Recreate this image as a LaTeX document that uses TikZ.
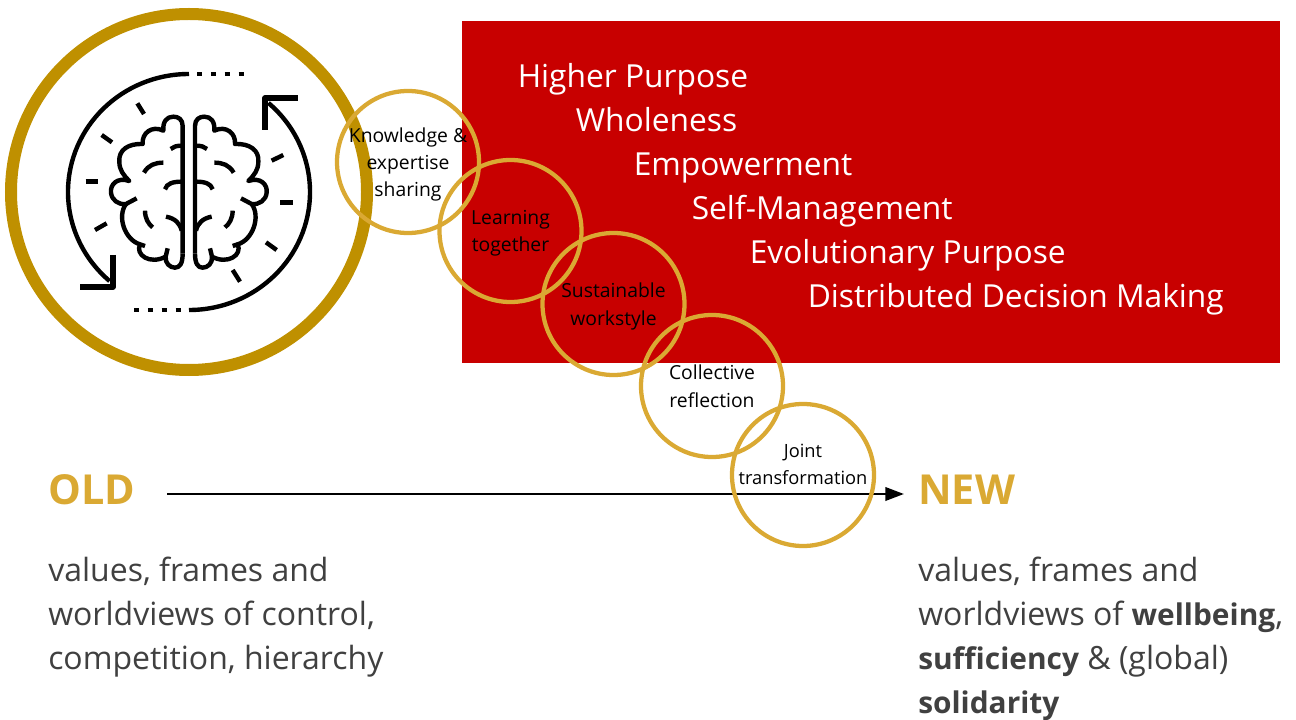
\documentclass[tikz,border=0pt]{standalone}
\usepackage{fontspec}
\setmainfont{Open Sans}
\usetikzlibrary{arrows.meta, positioning}
\definecolor{darkgold}{HTML}{BF9000}
\definecolor{lightgold}{HTML}{DAA933}
\definecolor{boxred}{HTML}{C80000}
\definecolor{bodygrey}{HTML}{404040}

% bold words in the body text
\newcommand{\keyword}[1]{{\fontsize{22.4}{33}\selectfont\bfseries #1}}

% one half of the brain, drawn in a 3x grid
\newcommand{\brainhalf}{
	\draw[icon] (548,760) -- (548,378) .. controls (548,358) and (535,350) .. (520,350)
		.. controls (500,350) and (488,365) .. (490,392)
		.. controls (455,375) and (425,400) .. (428,432)
		.. controls (385,430) and (355,450) .. (358,485)
		.. controls (358,510) and (370,525) .. (388,543)
		.. controls (350,530) and (330,555) .. (333,578)
		.. controls (335,600) and (355,615) .. (378,612) -- (410,595);
	\draw[icon] (378,612) .. controls (350,650) and (375,720) .. (420,733)
		.. controls (405,765) and (450,795) .. (497,770)
		.. controls (495,790) and (510,803) .. (525,803)
		.. controls (540,803) and (548,790) .. (548,760);
	\draw[icon] (420,733) -- (435,738);
	\draw[icon] (497,770) -- (503,745);
	\draw[icon] (512,447) .. controls (520,440) and (530,437) .. (545,437);
	\draw[icon] (432,518) .. controls (445,495) and (465,488) .. (490,488);
	\draw[icon] (495,568) .. controls (500,550) and (520,545) .. (545,545);
	\draw[icon] (435,632) .. controls (435,655) and (445,672) .. (458,682);
	\draw[icon] (498,650) .. controls (525,655) and (540,670) .. (545,692);
}

\begin{document}
\begin{tikzpicture}[
			x=0.75pt,
			y=-0.75pt,
			redbox/.style={
				rectangle,
				fill=boxred,
				draw=none,
				minimum width=613.5pt,
				minimum height=256.5pt,
				inner sep=0pt
			},
			purpose/.style={
				anchor=base west,
				text=white,
				font=\fontsize{23.8}{27}\selectfont,
				inner sep=0pt
			},
			bigring/.style={
				circle,
				draw=darkgold,
				line width=9pt,
				minimum size=267pt,
				inner sep=0pt
			},
			ring/.style={
				circle,
				draw=lightgold,
				line width=3.2pt,
				minimum size=106.5pt,
				inner sep=-12pt,
				align=center,
				text depth=0pt,
				font=\fontsize{14.5}{20.5}\selectfont
			},
			heading/.style={
				anchor=west,
				text=lightgold,
				font=\fontsize{31}{36}\selectfont\bfseries,
				inner sep=0pt
			},
			desc/.style={
				anchor=north west,
				align=left,
				text=bodygrey,
				font=\fontsize{24}{33}\selectfont,
				inner sep=0pt
			},
			icon/.style={
				line width=3.3pt,
				line cap=butt,
				line join=round
			},
			line/.style={
				-{Triangle[length=14pt,width=10pt]},
				line width=2pt
			}
			]
			
			\useasboundingbox (0,0) rectangle (1296,720);
			
			% Red box
			
			\node [redbox] (box) at (871,192) {};
			
			\node [purpose] (P1) at (517.5,88) {Higher Purpose};
			\node [purpose] (P2) at ([xshift=43.5pt,yshift=-33pt]P1.base west) {Wholeness};
			\node [purpose] (P3) at ([xshift=43.5pt,yshift=-33pt]P2.base west) {Empowerment};
			\node [purpose] (P4) at ([xshift=43.5pt,yshift=-33pt]P3.base west) {Self-Management};
			\node [purpose] (P5) at ([xshift=43.5pt,yshift=-33pt]P4.base west) {Evolutionary Purpose};
			\node [purpose] (P6) at ([xshift=43.5pt,yshift=-33pt]P5.base west) {Distributed Decision Making};
			
			% Brain
			
			\node [bigring] (mind) at (189,192) {};
			
			\draw[icon] (mind.center) ++(0,-118) arc[start angle=90, end angle=229, x radius=90.75pt, y radius=88.5pt];
			\draw[icon] (mind.center) ++(0,118) arc[start angle=-90, end angle=49, x radius=90.75pt, y radius=88.5pt];
			\draw[icon, line width=4pt] (113,255) -- (113,287) -- (80,287);
			\draw[icon, line width=4pt] (265,130) -- (265,98) -- (298,98);
			\draw[icon, dash pattern=on 4pt off 6.4pt] (197,74) -- (245,74);
			\draw[icon, dash pattern=on 4pt off 6.4pt] (134,310) -- (182,310);
			
			\begin{scope}[x=0.25pt, y=-0.25pt]
				\foreach \xa/\ya/\xb/\yb in {412/310/432/342, 305/405/336/427, 257/544/295/544, 285/690/320/670,
					815/482/850/465, 840/607/878/607, 798/727/830/750, 698/810/720/845}
					\draw[icon] (\xa,\ya) -- (\xb,\yb);
				\brainhalf
			\end{scope}
			\begin{scope}[x=-0.25pt, y=-0.25pt, xshift=283.25pt]
				\brainhalf
			\end{scope}
			
			% Old to new
			
			\node [heading] (old) at (48,490) {OLD};
			\node [heading] (new) at (918,490) {NEW};
			\coordinate (start) at (167,494);
			\coordinate (end) at (904,494);
			\draw[line] (start) -- (end);
			
			\node [desc] (oldtext) at (48,557) {values, frames and\\worldviews of control,\\competition, hierarchy};
			\node [desc] (newtext) at (918,557) {values, frames and\\worldviews of \keyword{wellbeing},\\\keyword{sufficiency} \& (global)\\\keyword{solidarity}};
			
			% Rings
			
			\node [ring] (R1) at (408,162) {Knowledge \&\\expertise\\sharing};
			\node [ring] (R2) at (510.5,231) {Learning\\together};
			\node [ring] (R3) at (613.5,304) {Sustainable\\workstyle};
			\node [ring] (R4) at (712,386) {Collective\\reflection};
			\node [ring] (R5) at (803,475) {};
			\node [align=center, font=\fontsize{13.7}{20.5}\selectfont, inner sep=0pt] (R5text) at ([yshift=8pt]R5.center) {Joint\\transformation};
			
		\end{tikzpicture}
\end{document}
